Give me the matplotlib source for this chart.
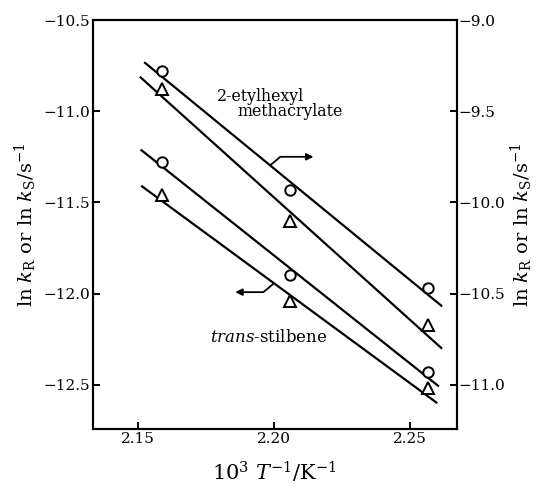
import matplotlib
matplotlib.use('Agg')
import matplotlib.pyplot as plt
import numpy as np

plt.rcParams['font.family'] = 'DejaVu Serif'
plt.rcParams['mathtext.fontset'] = 'dejavuserif'

# 10^3 / T
temp_inv = [2.159, 2.206, 2.2565]

# 2-ethylhexyl methacrylate (right axis)
eh_circle = [-9.28, -9.93, -10.47]
eh_triangle = [-9.38, -10.10, -10.67]
eh_circle_line_x = [2.1527, 2.2614]
eh_circle_line_y = [-9.235, -10.566]
eh_triangle_line_x = [2.1511, 2.2614]
eh_triangle_line_y = [-9.315, -10.798]

# trans-stilbene (left axis)
st_circle = [-11.28, -11.90, -12.43]
st_triangle = [-11.46, -12.04, -12.515]
st_circle_line_x = [2.1514, 2.2602]
st_circle_line_y = [-11.214, -12.505]
st_triangle_line_x = [2.1516, 2.2596]
st_triangle_line_y = [-11.412, -12.597]

left_ticks = [-10.5, -11.0, -11.5, -12.0, -12.5]
right_ticks = [-9.0, -9.5, -10.0, -10.5, -11.0]
x_ticks = [2.15, 2.20, 2.25]

fig = plt.figure(figsize=(5.39, 4.88), dpi=100)
ax = fig.add_axes([0.1725, 0.121, 0.6745, 0.838])
ax2 = ax.twinx()

ax.set_xlim(2.1336, 2.267)
ax.set_ylim(-12.742, -10.5)
ax2.set_ylim(-11.242, -9.0)

mk = dict(linestyle='none', markerfacecolor='white', markeredgecolor='black',
          markeredgewidth=1.4, zorder=3)
ln = dict(color='black', lw=1.6, zorder=2)

ax2.plot(eh_circle_line_x, eh_circle_line_y, **ln)
ax2.plot(eh_triangle_line_x, eh_triangle_line_y, **ln)
ax2.plot(temp_inv, eh_circle, marker='o', markersize=7.5, **mk)
ax2.plot(temp_inv, eh_triangle, marker='^', markersize=8, **mk)

ax.plot(st_circle_line_x, st_circle_line_y, **ln)
ax.plot(st_triangle_line_x, st_triangle_line_y, **ln)
ax.plot(temp_inv, st_circle, marker='o', markersize=7.5, **mk)
ax.plot(temp_inv, st_triangle, marker='^', markersize=8, **mk)

ax.set_xticks(x_ticks)
ax.set_xticklabels(['2.15', '2.20', '2.25'])
ax.set_yticks(left_ticks)
ax.set_yticklabels(['\u2212%.1f' % -v for v in left_ticks])
ax2.set_yticks(right_ticks)
ax2.set_yticklabels(['\u2212%.1f' % -v for v in right_ticks])

for a in (ax, ax2):
    a.tick_params(direction='in', length=5, width=1.4, labelsize=11, pad=2)
    for s in a.spines.values():
        s.set_linewidth(1.5)
ax2.tick_params(pad=1)

ylab = r'$\mathrm{ln}\ k_{\mathrm{R}}$ or $\mathrm{ln}\ k_{\mathrm{S}}/\mathrm{s}^{-1}$'
ax.set_ylabel(ylab, fontsize=14, labelpad=3)
ax2.set_ylabel(ylab, fontsize=14, rotation=90, labelpad=3)
ax.set_xlabel(r'$10^3\ T^{-1}/\mathrm{K}^{-1}$', fontsize=15, labelpad=10)

ax.text(2.1790, -10.921, '2-etylhexyl', fontsize=11.3, va='center', ha='left')
ax.text(2.1868, -11.004, 'methacrylate', fontsize=11.3, va='center', ha='left')
ax.text(2.1766, -12.242, r'$\it{trans}$-stilbene', fontsize=12, va='center', ha='left')

ax.annotate('', xy=(2.2145, -11.25), xytext=(2.1986, -11.297),
            arrowprops=dict(arrowstyle='-|>', color='black', lw=1.3,
                            connectionstyle='angle,angleA=40,angleB=0,rad=0',
                            shrinkA=0, shrinkB=0, mutation_scale=10))
ax.annotate('', xy=(2.1858, -11.992), xytext=(2.1999, -11.945),
            arrowprops=dict(arrowstyle='-|>', color='black', lw=1.3,
                            connectionstyle='angle,angleA=220,angleB=180,rad=0',
                            shrinkA=0, shrinkB=0, mutation_scale=10))

fig.savefig('out.png', dpi=100)
